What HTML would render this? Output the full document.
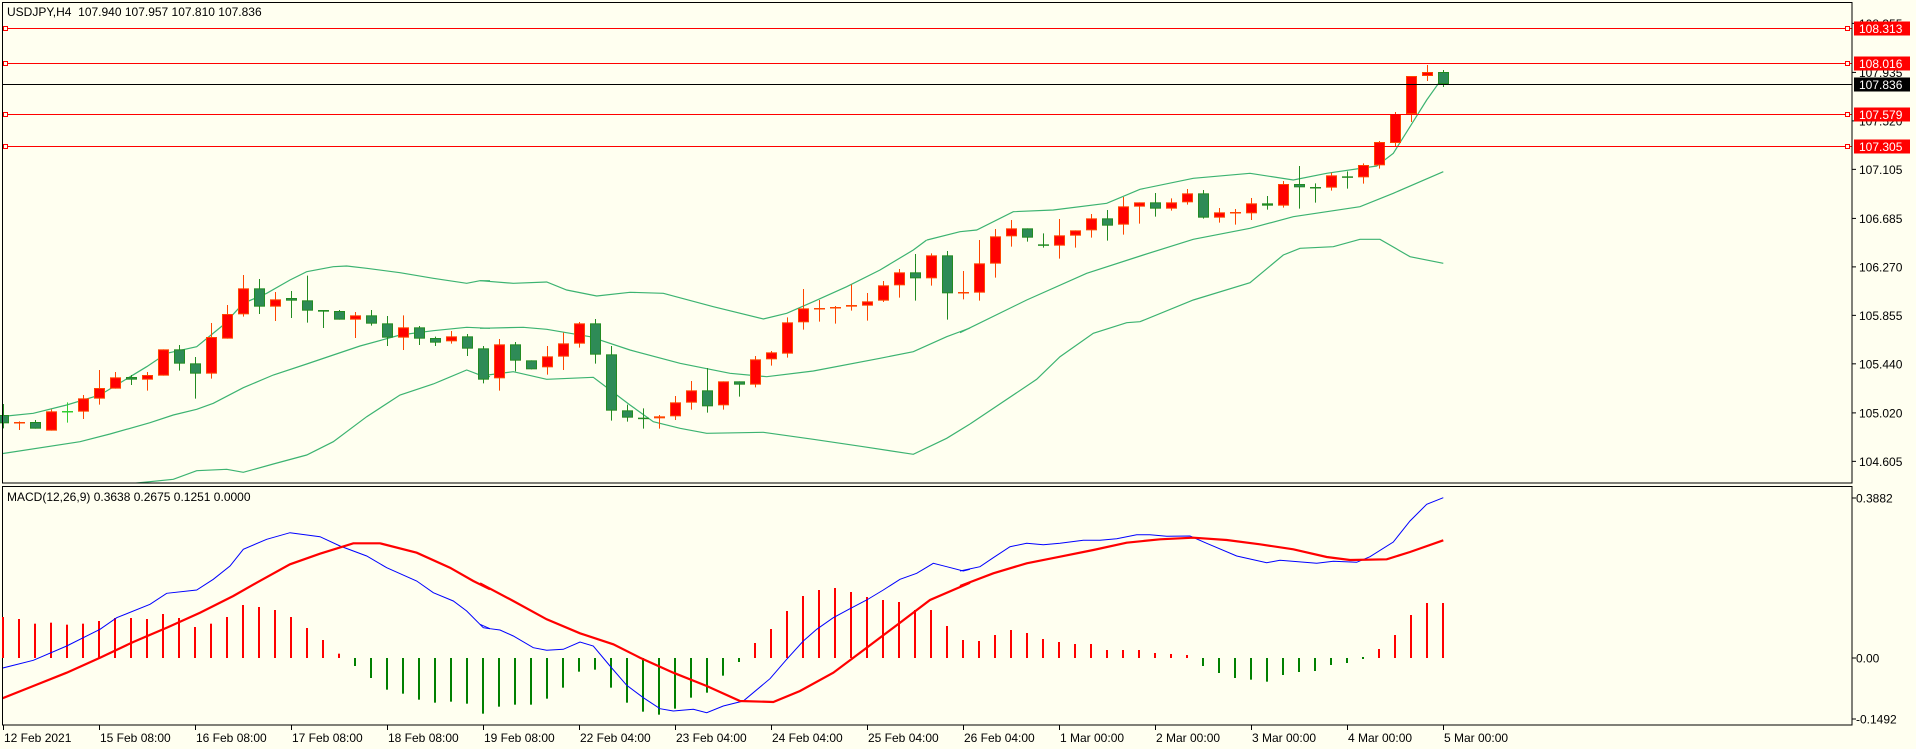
<!DOCTYPE html>
<html><head><meta charset="utf-8">
<style>
html,body{margin:0;padding:0;background:#fffff0;}
svg{display:block;font-family:"Liberation Sans",sans-serif;}
</style></head>
<body>
<svg id="c" width="1916" height="749" xmlns="http://www.w3.org/2000/svg"></svg>
<script>
var S=document.getElementById('c');var h='';
h+='<rect x="0" y="0" width="1916" height="749" fill="#fffff0"/>';
var z5=[['d',525,550,492,565],['u',546,550,544,570],['d',546,566,540,566],['u',514,572,508,572],['c',513,515,487,548],['u',475,515,465,537],['u',444,476,390,494],['u',412,446,396,446],['d',411,419,405,435],['u',405,419,396,452],['u',328,407,328,407],['d',328,371,315,392],['d',370,401,351,476],['u',291,401,249,416],['u',222,296,195,296],['u',145,223,105,230],['d',145,200,117,222],['u',178,200,156,243],['d',174,182,153,234],['d',181,212,107,248],['d',210,215,210,264],['d',213,239,210,239],['u',226,239,216,294],['d',226,251,210,257],['d',250,293,228,318],['u',262,293,226,330],['d',262,296,258,315],['d',294,308,290,318],['u',289,304,273,311],['d',289,326,282,348]];
var z6=[['d',325,419,318,430],['u',313,415,297,452],['d',313,362,306,394],['d',361,388,361,388],['u',349,382,318,404],['u',310,350,278,390],['u',250,311,246,323],['d',250,344,237,371],['d',343,512,318,542],['d',511,533,494,545],['d',533,536,505,566],['u',529,535,525,566],['u',487,529,468,540],['u',451,488,423,509],['d',451,499,384,518],['u',424,496,424,509],['d',424,434,424,470],['u',358,434,348,442],['u',337,358,333,377],['u',247,341,232,353],['u',205,247,147,269],['u',204,206,180,245],['u',201,204,198,251],['u',195,200,134,212],['u',184,197,159,242],['u',136,182,123,186],['u',97,136,87,173],['d',97,115,42,182],['u',46,115,40,137],['d',46,160,33,239]];
var z7=[['u',456,460,393,478],['u',370,458,300,482],['u',289,371,267,413],['u',265,289,240,320],['d',265,293,265,305],['d',313,316,280,323],['u',286,317,237,356],['u',271,287,271,323],['u',235,271,222,293],['d',235,257,210,302],['u',199,254,171,284],['u',187,200,187,251],['d',187,206,159,230],['u',187,206,175,212],['u',160,187,147,194],['d',160,233,150,236],['u',217,233,204,248],['u',216,218,207,254],['u',190,220,174,240],['d',190,197,168,209],['u',132,197,123,203],['d',132,142,78,206],['d',141,143,130,188],['u',106,143,98,152],['d',109,112,94,146],['u',75,112,70,131],['u',6,76,3,86]];
var C=[];
z5.forEach(function(a){C.push([a[0],240+a[1]/3,240+a[2]/3,240+a[3]/3,240+a[4]/3]);});
z6.forEach(function(a){C.push([a[0],240+a[1]/3,240+a[2]/3,240+a[3]/3,240+a[4]/3]);});
z7.forEach(function(a){C.push([a[0],140+a[1]/3,140+a[2]/3,140+a[3]/3,140+a[4]/3]);});
C.push(['u',114,143,112,146]);C.push(['u',76,114,76,122]);C.push(['u',72,76,65,81]);C.push(['d',72,84,70,87]);
function X(i){return 3+16*i;}
function pl(pts,ox,oy,col,w){var s=pts.map(function(p,k){return k%2==0?(ox+p/3).toFixed(1):(oy+p/3).toFixed(1);});var o='';for(var k=0;k<s.length;k+=2)o+=s[k]+','+s[k+1]+' ';return '<polyline points="'+o+'" fill="none" stroke="'+col+'" stroke-width="'+w+'"/>';}
function PY(p){return 146-(p-107.305)*116.8;}
h+='<defs><clipPath id="m"><rect x="3" y="3" width="1849" height="480"/></clipPath><clipPath id="n"><rect x="3" y="487" width="1849" height="238"/></clipPath></defs>';
h+='<g clip-path="url(#m)">';
var BG='#3cb371';
h+=pl([0,530,100,520,200,495,300,465,440,380,500,340,590,320,670,255,730,190,800,160,870,120,920,95,1000,80,1040,78,1100,85,1200,98,1300,115,1400,130,1440,122,1470,122],0,240,BG,1.2);
h+=pl([0,642,240,605,330,582,450,548,520,525,590,508,640,490,730,443,820,405,920,372,1000,345,1080,318,1200,285,1300,272,1400,262,1470,265],0,240,BG,1.2);
h+=pl([0,760,300,740,520,718,590,692,680,688,730,697,820,672,920,645,1000,605,1100,530,1200,465,1300,432,1400,390,1440,405,1470,410],0,240,BG,1.2);
h+=pl([0,122,100,130,200,126,260,150,350,168,450,157,550,160,700,200,850,237,920,220,1000,185,1100,140,1200,90,1300,30,1340,0],480,240,BG,1.2);
h+=pl([0,265,130,262,200,268,330,290,450,330,600,370,750,400,860,410,1000,393,1200,355,1300,335,1400,290,1470,264],480,240,BG,1.2);
h+=pl([0,408,100,395,200,418,340,412,450,495,520,545,600,565,680,580,850,577,1000,598,1150,620,1300,643,1400,595,1470,552],480,240,BG,1.2);
h+=pl([-99,300,0,275,50,270,160,215,280,210,440,190,540,148,700,115,870,100,1000,120,1100,100,1250,78,1300,40,1350,-40,1400,-120,1450,-190],960,140,BG,1.2);
h+=pl([0,578,200,480,380,400,550,345,700,298,870,265,1000,230,1200,200,1300,160,1450,95],960,140,BG,1.2);
h+=pl([30,852,230,718,300,650,400,580,500,548,540,545,700,480,870,428,970,345,1020,325,1120,320,1200,298,1260,298,1350,350,1450,370],960,140,BG,1.2);
h+='</g>';
C.forEach(function(c,i){var x=X(i);var up=c[0]=='u';var fill=up?'#ff0000':'#2e8b57';var st=up?'#ff4500':'#228b22';
 if(c[0]=='c'){st='#32cd32';}
 h+='<line x1="'+(x+0.5)+'" y1="'+c[3]+'" x2="'+(x+0.5)+'" y2="'+c[4]+'" stroke="'+st+'" stroke-width="1"/>';
 var bh=c[2]-c[1];
 if(bh<2.5){h+='<rect x="'+(x-5)+'" y="'+(c[1])+'" width="11" height="'+Math.max(bh,1.5)+'" fill="'+st+'"/>';}
 else h+='<rect x="'+(x-4.5)+'" y="'+(c[1]+0.5)+'" width="10" height="'+(bh-1)+'" fill="'+fill+'" stroke="'+st+'" stroke-width="1"/>';
});
[[108.313,28.5],[108.016,63.5],[107.579,114.5],[107.305,146.5]].forEach(function(l){
 h+='<line x1="3" y1="'+l[1]+'" x2="1852" y2="'+l[1]+'" stroke="#ff0000" stroke-width="1"/>';
 h+='<rect x="3.5" y="'+(l[1]-2)+'" width="4" height="4" fill="#fffff0" stroke="#ff0000"/>';
 h+='<rect x="1845.5" y="'+(l[1]-2)+'" width="4" height="4" fill="#fffff0" stroke="#ff0000"/>';
});
h+='<line x1="3" y1="84.5" x2="1852" y2="84.5" stroke="#000" stroke-width="1"/>';
h+='<rect x="2.5" y="2.5" width="1849.5" height="480.5" fill="none" stroke="#000"/>';
h+='<rect x="2.5" y="486.5" width="1849.5" height="238.5" fill="none" stroke="#000"/>';
[108.355,107.935,107.520,107.105,106.685,106.270,105.855,105.440,105.020,104.605].forEach(function(p){var y=PY(p);
 h+='<line x1="1852" y1="'+y+'" x2="1856" y2="'+y+'" stroke="#000"/>';
 h+='<text x="1859" y="'+(y+4.5)+'" font-size="12" fill="#000">'+p.toFixed(3)+'</text>';});
[[108.313,28.5],[108.016,63.5],[107.579,114.5],[107.305,146.5]].forEach(function(l){
 h+='<rect x="1854" y="'+(l[1]-7)+'" width="56" height="14" fill="#ff0000"/>';
 h+='<text x="1859" y="'+(l[1]+4.5)+'" font-size="12" fill="#fff">'+l[0].toFixed(3)+'</text>';});
h+='<rect x="1854" y="77.5" width="56" height="14" fill="#000"/><text x="1859" y="89" font-size="12" fill="#fff">107.836</text>';
h+='<text x="7" y="16" font-size="12" fill="#000" xml:space="preserve">USDJPY,H4  107.940 107.957 107.810 107.836</text>';
var hist=[393,399,413,410,416,413,405,396,396,399,384,396,423,413,393,357,363,372,393,426,462,503,540,576,611,623,641,650,647,653,683,662,656,656,638,605,557,551,605,650,677,686,668,635,620,569,528,471,429,375,330,312,306,318,333,342,348,372,372,420,462,465,447,432,441,459,468,474,474,492,492,492,501,504,507,540,561,576,581,587,567,558,555,537,531,519,489,447,387,351,351];
var Z=658;
hist.forEach(function(v,i){var y=486+v/3;var x=X(i);var col=y<Z?'#ff0000':'#008000';
 var y1=Math.min(y,Z),y2=Math.max(y,Z);if(y2-y1<1.5){y1=Z-1;y2=Z+1;}
 h+='<rect x="'+(x-1)+'" y="'+y1+'" width="2" height="'+(y2-y1)+'" fill="'+col+'"/>';});
h+='<g clip-path="url(#n)">';
h+=pl([0,548,100,523,200,480,300,430,350,395,450,355,500,322,590,312,640,280,690,240,730,190,800,160,870,140,960,152,1020,180,1100,210,1160,245,1250,285,1300,320,1360,345,1400,375,1450,425,1470,428],0,486,'#0000ff',1);
h+=pl([0,415,30,428,60,432,100,450,160,485,200,493,250,490,300,468,340,480,390,540,440,598,490,635,540,668,580,675,640,670,680,680,730,660,790,645,870,578,920,520,970,465,1010,430,1060,395,1110,368,1160,342,1210,312,1260,280,1310,262,1360,232,1400,242,1450,255,1470,250],480,486,'#0000ff',1);
h+=pl([0,255,60,242,100,215,150,182,200,172,250,176,300,172,370,163,420,163,470,158,530,146,570,146,620,151,690,150,740,172,830,210,920,230,960,223,1070,232,1120,226,1190,229,1230,212,1300,168,1350,105,1400,55,1450,35],960,486,'#0000ff',1);
h+=pl([0,640,100,600,200,560,300,515,400,468,500,425,600,380,700,330,770,290,870,235,960,203,1060,172,1140,172,1250,200,1350,245,1420,285,1470,310],0,486,'#ff0000',2.2);
h+=pl([0,292,100,345,200,400,300,442,400,475,480,515,580,560,680,600,780,645,880,648,960,615,1060,560,1160,485,1260,410,1350,342,1470,290],480,486,'#ff0000',2.2);
h+=pl([0,300,100,262,200,232,300,212,400,192,500,170,600,160,700,155,800,162,900,175,1000,190,1100,213,1170,222,1280,220,1350,198,1450,163],960,486,'#ff0000',2.2);
h+='</g>';
h+='<text x="7" y="501" font-size="12" fill="#000">MACD(12,26,9) 0.3638 0.2675 0.1251 0.0000</text>';
[[0.3882,498],[0,658],[-0.1492,719]].forEach(function(t,k){var lab=k==0?'0.3882':(k==1?'0.00':'-0.1492');
 h+='<line x1="1852" y1="'+t[1]+'" x2="1856" y2="'+t[1]+'" stroke="#000"/>';
 h+='<text x="1856" y="'+(t[1]+4.5)+'" font-size="12" fill="#000">'+lab+'</text>';});
var labs=['12 Feb 2021','15 Feb 08:00','16 Feb 08:00','17 Feb 08:00','18 Feb 08:00','19 Feb 08:00','22 Feb 04:00','23 Feb 04:00','24 Feb 04:00','25 Feb 04:00','26 Feb 04:00','1 Mar 00:00','2 Mar 00:00','3 Mar 00:00','4 Mar 00:00','5 Mar 00:00'];
labs.forEach(function(l,k){var x=3+96*k;h+='<line x1="'+(x+0.5)+'" y1="725" x2="'+(x+0.5)+'" y2="730" stroke="#000"/>';
 h+='<text x="'+(x+1)+'" y="742" font-size="12" fill="#000">'+l+'</text>';});
S.innerHTML=h;
</script>
</body></html>
